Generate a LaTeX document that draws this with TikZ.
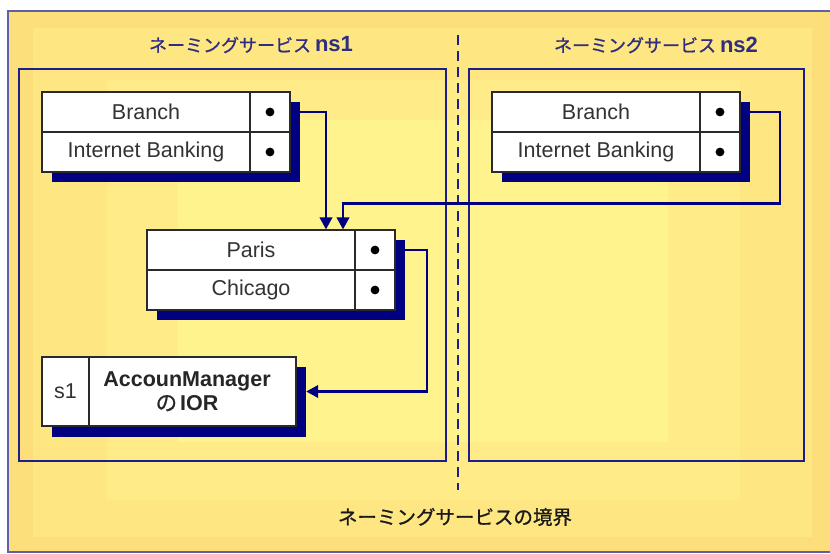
\documentclass[tikz,border=0pt]{standalone}
\usepackage{fontspec}
\setmainfont{Liberation Sans}
\newfontfamily\jp{Noto Sans CJK JP}
\newfontfamily\jpm[FakeBold=0.9]{Noto Sans CJK JP}
\usetikzlibrary{arrows.meta,calc}

\definecolor{navy}{HTML}{000080}
\definecolor{frameblue}{HTML}{1E1E8A}
\definecolor{edgeblue}{HTML}{6060A8}
\definecolor{bandA}{HTML}{FCDE7A}
\definecolor{bandB}{HTML}{FEE682}
\definecolor{bandC}{HTML}{FFEB87}
\definecolor{bandD}{HTML}{FFF38D}
\definecolor{titleblue}{HTML}{2E2E80}
\definecolor{ink}{HTML}{333333}
\definecolor{cellline}{HTML}{2A2A2A}

\tikzset{
  cellbase/.style={draw=cellline, line width=1.2pt, fill=white, inner sep=0pt,
    minimum height=40pt, text=ink, font=\fontsize{21.5}{24}\selectfont},
  namecell/.style={cellbase, minimum width=208pt},
  dotcell/.style={cellbase, minimum width=40pt},
  shadowbox/.style={fill=navy, draw=none, inner sep=0pt, minimum width=248pt, minimum height=80pt},
  nsbox/.style={draw=frameblue, line width=2.2pt},
  conn/.style={draw=navy, line width=2.2pt, -{Triangle[length=12pt,width=12.5pt]}},
  titletext/.style={text=titleblue, font=\fontsize{18}{20}\selectfont\jpm},
  dotmark/.style={fill=black},
}

\begin{document}
\begin{tikzpicture}[x=1pt,y=-1pt]
  \useasboundingbox (0,0) rectangle (830,554);

  % layered yellow background
  \fill[white] (0,0) rectangle (830,554);
  \fill[bandA] (8,11) rectangle (830,552);
  \fill[bandB] (33,28) rectangle (812,537);
  \fill[bandC] (107,80) rectangle (740,500);
  \fill[bandD] (178,120) rectangle (668,442);
  \draw[edgeblue, line width=1.5pt] (830,11) -- (8,11) -- (8,552) -- (830,552);

  % naming service areas
  \draw[nsbox] (19,69) rectangle (446,461);
  \draw[nsbox] (469,69) rectangle (804,461);
  \draw[frameblue, line width=2.6pt, dash pattern=on 10pt off 6pt] (458,35) -- (458,490);

  \node[titletext] (t1) at (251,45) {ネーミングサービス\hspace{4pt}\fontsize{22}{24}\selectfont\rmfamily\bfseries ns1};
  \node[titletext] (t2) at (656,45) {ネーミングサービス\hspace{4pt}\fontsize{22}{24}\selectfont\rmfamily\bfseries ns2};

  % context table in ns1
  \node[shadowbox] (b1s) at (176,142) {};
  \node[namecell] (b1) at (146,112) {Branch};
  \node[dotcell] (b1d) at (270,112) {};
  \node[namecell] (i1) at (146,152) {Internet Banking};
  \node[dotcell] (i1d) at (270,152) {};

  % context table in ns2
  \node[shadowbox] (b2s) at (626,142) {};
  \node[namecell] (b2) at (596,112) {Branch};
  \node[dotcell] (b2d) at (720,112) {};
  \node[namecell] (i2) at (596,152) {Internet Banking};
  \node[dotcell] (i2d) at (720,152) {};

  % Branch context table
  \node[shadowbox] (ps) at (281,280) {};
  \node[namecell] (p) at (251,250) {Paris};
  \node[dotcell] (pd) at (375,250) {};
  \node[namecell] (c) at (251,290) {Chicago};
  \node[dotcell] (cd) at (375,290) {};

  % object binding
  \node[shadowbox, minimum width=254pt, minimum height=70pt] (as) at (179,402) {};
  \node[cellbase, minimum width=47pt, minimum height=69pt] (s1) at (65.5,391.5) {s1};
  \node[cellbase, minimum width=207pt, minimum height=69pt, align=center,
        text=black!85, font=\fontsize{21.5}{25}\selectfont\bfseries] (am) at (192.5,391.5)
        {\hspace*{-11pt}AccounManager\\[-1pt]\hspace*{-11pt}{\jpm\mdseries の}\hspace{3pt}IOR};

  % binding dots
  \foreach \d in {b1d,i1d,b2d,i2d,pd,cd}
    \fill[dotmark] (\d) circle (4.4pt);

  % connectors
  \draw[conn] (b1s.east |- b1) -| ([xshift=75pt]p.north);
  \draw[conn] (b2s.east |- b2) -- ++(30,0) |- ([xshift=92pt,yshift=26pt]p.north) -- ([xshift=92pt]p.north);
  \draw[conn] (ps.east |- p) -- ++(22,0) |- (as.east |- am);

  \node[text=black!90, font=\fontsize{19.5}{22}\selectfont\jpm] (bound) at (455,517) {ネーミングサービスの境界};
\end{tikzpicture}
\end{document}
